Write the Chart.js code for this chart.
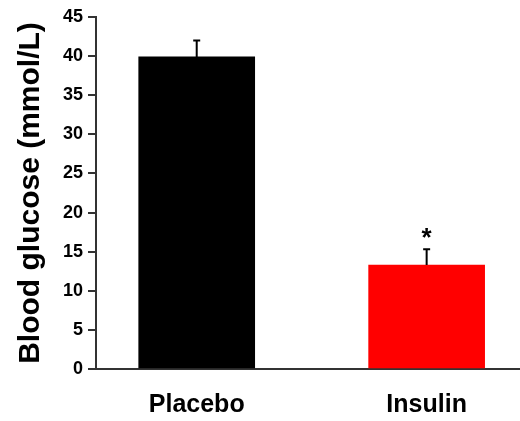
<!DOCTYPE html>
<html>
<head>
<meta charset="utf-8">
<script src="https://cdn.jsdelivr.net/npm/chart.js@4/dist/chart.umd.min.js"></script>
<style>
  html, body { margin: 0; padding: 0; background: #fff; overflow: hidden; }
  #wrap { width: 520px; height: 421px; }
</style>
</head>
<body>
<div id="wrap"><canvas id="chart" width="520" height="421"></canvas></div>
<script>
// --- data ---
const groups = ['Placebo', 'Insulin'];
const glucoseMean = [39.9, 13.3];
const glucoseSEM = [2.1, 2.0];
const significance = ['', '*'];
const barColors = ['#000000', '#ff0000'];

const axisColor = '#333333';
const fontFamily = '"Liberation Sans", Arial, sans-serif';

// error bars (upper only) + significance marks
const errorBarPlugin = {
    id: 'errorBars',
    afterDatasetsDraw(chart) {
        const ctx = chart.ctx;
        const xs = chart.scales.x, ys = chart.scales.y;
        ctx.save();
        ctx.strokeStyle = '#000';
        ctx.lineWidth = 2;
        groups.forEach((g, i) => {
            const px = xs.getPixelForValue(i + 1);
            const yTop = ys.getPixelForValue(glucoseMean[i]);
            const yErr = ys.getPixelForValue(glucoseMean[i] + glucoseSEM[i]);
            ctx.beginPath();
            ctx.moveTo(px, yTop);
            ctx.lineTo(px, yErr);
            ctx.moveTo(px - 3.5, yErr);
            ctx.lineTo(px + 3.5, yErr);
            ctx.stroke();
            if (significance[i]) {
                ctx.fillStyle = '#000';
                ctx.font = 'bold 26px ' + fontFamily;
                ctx.textAlign = 'center';
                ctx.textBaseline = 'alphabetic';
                ctx.fillText(significance[i], px, yErr - 3);
            }
        });
        ctx.restore();
    }
};

new Chart(document.getElementById('chart'), {
    type: 'bar',
    data: {
        datasets: [{
            data: groups.map((g, i) => ({ x: i + 1, y: glucoseMean[i] })),
            backgroundColor: barColors,
            borderWidth: 0,
            barThickness: 116
        }]
    },
    options: {
        responsive: false,
        animation: false,
        events: [],
        layout: { padding: { left: 0, right: 0, top: 17, bottom: 0 } },
        plugins: { legend: { display: false }, tooltip: { enabled: false } },
        scales: {
            x: {
                type: 'linear',
                offset: false,
                min: 0.562,
                max: 2.406,
                afterBuildTicks(scale) {
                    scale.ticks = groups.map((g, i) => ({ value: i + 1 }));
                },
                afterFit(scale) { scale.height = 52; },
                ticks: {
                    callback: (v) => groups[v - 1] || '',
                    color: '#000',
                    font: { family: fontFamily, size: 25, weight: 'bold' },
                    padding: 21,
                    maxRotation: 0
                },
                grid: { display: false, drawTicks: false },
                border: { color: axisColor, width: 2 }
            },
            y: {
                min: 0,
                max: 45,
                afterFit(scale) { scale.width = 96; },
                ticks: {
                    stepSize: 5,
                    color: '#000',
                    font: { family: fontFamily, size: 18, weight: 'bold' },
                    padding: 5
                },
                grid: {
                    drawOnChartArea: false,
                    drawTicks: true,
                    tickLength: 8,
                    color: axisColor,
                    lineWidth: 2
                },
                border: { color: axisColor, width: 2 },
                title: {
                    display: true,
                    text: 'Blood glucose (mmol/L)',
                    color: '#000',
                    font: { family: fontFamily, size: 30, weight: 'bold' },
                    padding: { top: 13, bottom: 0 }
                }
            }
        }
    },
    plugins: [errorBarPlugin]
});
</script>
</body>
</html>
